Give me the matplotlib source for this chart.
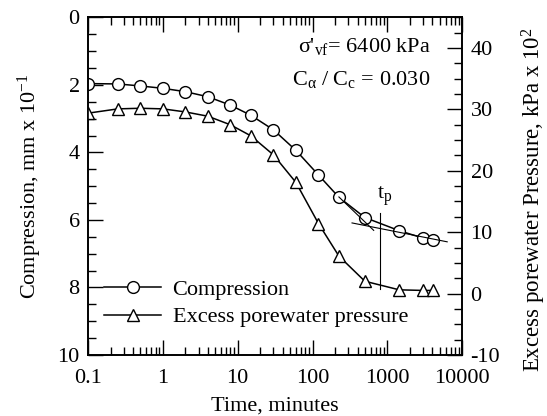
import matplotlib
matplotlib.use('Agg')
from matplotlib import pyplot as plt
from matplotlib.ticker import MultipleLocator, LogLocator, NullFormatter, FixedLocator

plt.rcParams['font.family'] = ['Liberation Serif', 'DejaVu Serif']
plt.rcParams['mathtext.fontset'] = 'custom'
plt.rcParams['mathtext.rm'] = 'Liberation Serif'
plt.rcParams['mathtext.it'] = 'Liberation Serif:italic'
plt.rcParams['axes.unicode_minus'] = False

# time, minutes
time = [0.1, 0.25, 0.5, 1, 2, 4, 8, 15, 30, 60, 120, 225, 500, 1440, 3000, 4100]
# compression, mm x 10^-1 (left axis)
compression = [1.96, 1.97, 2.03, 2.1, 2.2, 2.35, 2.6, 2.9, 3.33, 3.94, 4.67, 5.33, 5.93, 6.32, 6.54, 6.6]
# excess porewater pressure, kPa x 10^2 (right axis)
pore_pressure = [29.4, 30.1, 30.2, 30.1, 29.6, 28.9, 27.5, 25.7, 22.6, 18.1, 11.4, 6.1, 2.0, 0.6, 0.5, 0.5]

# construction lines for t_p
primary_tangent = ([225, 656], [5.32, 6.31])
secondary_line = ([337, 6300], [6.09, 6.65])
tp_time = 790
tp_range = [5.79, 8.04]

FS = 16

fig = plt.figure(figsize=(5.47, 4.16), dpi=100)
ax = fig.add_axes([0.161, 0.147, 0.684, 0.811])
ax2 = ax.twinx()

l1, = ax.plot(time, compression, color='black', lw=1.1, marker='o', ms=8.5,
              mfc='white', mec='black', mew=1.0, label='Compression')
l2, = ax2.plot(time, pore_pressure, color='black', lw=1.1, marker='^', ms=8.5,
               mfc='white', mec='black', mew=1.0, label='Excess porewater pressure')

ax.plot(*primary_tangent, color='black', lw=0.8)
ax.plot(*secondary_line, color='black', lw=0.8)
ax.plot([tp_time, tp_time], tp_range, color='black', lw=0.8)
ax.text(tp_time * 0.93, 5.65, 't$_\\mathrm{p}$', fontsize=FS, ha='left', va='bottom')

ax.set_xscale('log')
ax.set_xlim(0.1, 10000)
ax.set_ylim(10, 0)
ax2.set_ylim(-10, 45)

ax.xaxis.set_major_locator(FixedLocator([0.1, 1, 10, 100, 1000, 10000]))
ax.xaxis.set_minor_locator(LogLocator(base=10, subs=range(2, 10), numticks=20))
ax.xaxis.set_minor_formatter(NullFormatter())
ax.set_xticklabels(['0.1', '1', '10', '100', '1000', '10000'])

ax.yaxis.set_major_locator(MultipleLocator(2))
ax.yaxis.set_minor_locator(MultipleLocator(0.5))
ax2.yaxis.set_major_locator(FixedLocator([-10, 0, 10, 20, 30, 40]))
ax2.yaxis.set_minor_locator(MultipleLocator(2.5))

for a in (ax, ax2):
    a.tick_params(which='major', direction='in', length=11, width=1.0, labelsize=FS, pad=6)
    a.tick_params(which='minor', direction='in', length=6, width=1.0)
    for s in a.spines.values():
        s.set_linewidth(1.2)
ax.tick_params(axis='x', which='both', top=True)
ax.tick_params(axis='x', which='major', pad=10)

ax.set_xlabel('Time, minutes', fontsize=FS, labelpad=6)
ax.set_ylabel('Compression, mm x 10$^{-1}$', fontsize=FS, labelpad=10)
ax2.set_ylabel('Excess porewater Pressure, kPa x 10$^{2}$', fontsize=16.5)
ax2.yaxis.set_label_coords(1.155, 0.46)

ax.text(0.915, 0.915, "σ'$_\\mathrm{vf}$= 6400 kPa", transform=ax.transAxes,
        fontsize=FS, ha='right', va='center')
ax.text(0.915, 0.815, 'C$_\\mathrm{α}$ / C$_\\mathrm{c}$ = 0.030', transform=ax.transAxes,
        fontsize=FS, ha='right', va='center')

ax.legend(handles=[l1, l2], loc='lower left', bbox_to_anchor=(0.0, 0.035), frameon=False,
          fontsize=FS, handlelength=2.6, handletextpad=0.5, borderaxespad=0.3, labelspacing=0.3)

fig.savefig('out.png', dpi=100)
